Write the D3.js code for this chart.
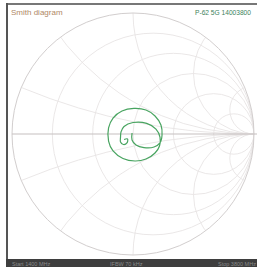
<!DOCTYPE html>
<html>
<head>
<meta charset="utf-8">
<script src="https://cdn.jsdelivr.net/npm/d3@7.9.0/dist/d3.min.js"></script>
<style>
  html, body { margin: 0; padding: 0; background: #fff; overflow: hidden; }
  svg { display: block; font-family: Arial, "Liberation Sans", sans-serif; }
</style>
</head>
<body>
<svg id="chart" width="257" height="267"></svg>
<script>
// grid values
const resistances = [0.2, 0.5, 1, 2, 5];
const reactances = [0.2, 0.5, 1, 2, 5];

// trace (re, im)
const traceRe = [-0.074, -0.045, -0.050, -0.079, -0.103, -0.103, -0.099, -0.074, 0.0, 0.113, 0.190, 0.223, 0.219, 0.182, 0.107, 0.017, -0.083, -0.165, -0.202, -0.202, -0.165, -0.091, 0.008, 0.107, 0.182, 0.231, 0.240, 0.223, 0.174, 0.091, 0.025, -0.008, -0.008];
const traceIm = [-0.045, -0.041, -0.074, -0.087, -0.066, -0.025, 0.017, 0.062, 0.095, 0.088, 0.041, -0.025, -0.099, -0.157, -0.207, -0.223, -0.202, -0.140, -0.058, 0.050, 0.132, 0.190, 0.211, 0.198, 0.149, 0.074, -0.008, -0.074, -0.107, -0.112, -0.091, -0.050, 0.008];

const headerLeft = "Smith diagram";
const headerRight = "P-62 5G 14003800";
const footerLabels = ["Start 1400 MHz", "IFBW 70 kHz", "Stop 3800 MHz"];

const svg = d3.select('#chart');
const W = 257, H = 267;
const cx = 133, cy = 134, R = 121;

const x = d3.scaleLinear().domain([-1, 1]).range([cx - R, cx + R]);
const y = d3.scaleLinear().domain([-1, 1]).range([cy + R, cy - R]);
const k = R; // pixels per unit of gamma

svg.append('defs').append('clipPath').attr('id', 'unit')
  .append('circle').attr('cx', x(0)).attr('cy', y(0)).attr('r', k);

const grid = svg.append('g').attr('clip-path', 'url(#unit)')
  .attr('fill', 'none').attr('stroke', '#e8e4e4').attr('stroke-width', 0.9);

resistances.forEach(r => {
  grid.append('circle')
    .attr('cx', x(r / (1 + r))).attr('cy', y(0))
    .attr('r', k / (1 + r));
});

reactances.forEach(xv => {
  [1, -1].forEach(s => {
    grid.append('circle')
      .attr('cx', x(1)).attr('cy', y(s / xv))
      .attr('r', k / xv);
  });
});

// outer circle
svg.append('circle')
  .attr('cx', x(0)).attr('cy', y(0)).attr('r', k)
  .attr('fill', 'none').attr('stroke', '#d2cece').attr('stroke-width', 1);

// real axis
svg.append('line')
  .attr('x1', x(-1)).attr('x2', W)
  .attr('y1', y(0)).attr('y2', y(0))
  .attr('stroke', '#c6c0c0').attr('stroke-width', 1.2);

// trace
const pts = traceRe.map((re, i) => [re, traceIm[i]]);
const line = d3.line().x(d => x(d[0])).y(d => y(d[1])).curve(d3.curveCatmullRom);
svg.append('path')
  .attr('d', line(pts))
  .attr('fill', 'none')
  .attr('stroke', '#48a460')
  .attr('stroke-width', 1.2);

// frame
svg.append('rect').attr('x', 6).attr('y', 3).attr('width', W).attr('height', 2).attr('fill', '#777');
svg.append('rect').attr('x', 6).attr('y', 3).attr('width', 2).attr('height', H).attr('fill', '#555');

svg.append('text').attr('x', 11).attr('y', 15)
  .attr('font-size', 8).attr('fill', '#b08866').text(headerLeft);
svg.append('text').attr('x', 195).attr('y', 15)
  .attr('font-size', 7.5).attr('fill', '#3d7f5c')
  .attr('textLength', 56).attr('lengthAdjust', 'spacingAndGlyphs')
  .text(headerRight);

// footer bar
svg.append('rect').attr('x', 6).attr('y', 259).attr('width', W).attr('height', 8).attr('fill', '#3e3e3e');
const fx = [12, 110, 218];
footerLabels.forEach((t, i) => {
  svg.append('text').attr('x', fx[i]).attr('y', 266)
    .attr('font-size', 5.5).attr('fill', '#8a8a8a').text(t);
});
</script>
</body>
</html>
